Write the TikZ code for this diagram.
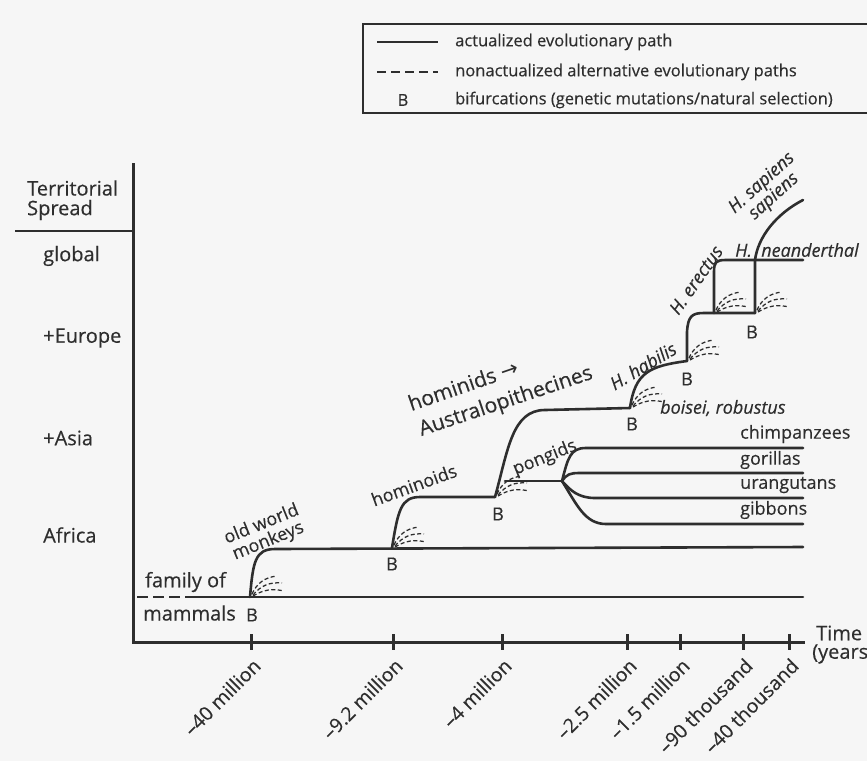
\documentclass[tikz,border=0pt]{standalone}
\usepackage{fontspec}
\setmainfont{Open Sans}[FakeBold=0.35]
\newfontfamily\arrowfont{DejaVu Sans}
\definecolor{ink}{HTML}{2E2E2E}
\definecolor{paper}{HTML}{F6F6F6}
\tikzset{
 evo/.style={draw=ink,line width=2.6pt,line cap=round,line join=round},
 alt/.style={draw=ink,line width=1.25pt,dash pattern=on 4pt off 2.5pt},
 axisline/.style={draw=ink,line width=3pt},
 txt/.style={text=ink,inner sep=0pt,font=\fontsize{18}{21}\selectfont},
 ax/.style={txt,font=\fontsize{20}{23}\selectfont},
 leg/.style={txt,font=\fontsize{16.5}{19}\selectfont},
 itl/.style={txt,font=\fontsize{18}{21}\selectfont\itshape},
 big/.style={txt,font=\fontsize{21}{24}\selectfont},
 tick/.style={txt,font=\fontsize{19.5}{22}\selectfont,rotate=45,anchor=east},
 fanpic/.pic={
  \draw[alt] (2,-3) to[bend left=30] (27,-21);
  \draw[alt] (3,-2) to[bend left=28] (32,-14);
  \draw[alt] (3,-1) to[bend left=22] (34,-6);
 }
}
\begin{document}
\begin{tikzpicture}[x=1pt,y=-1pt]
\fill[paper] (0,0) rectangle (867,761);
\useasboundingbox (0,0) rectangle (867,761);

% legend
\coordinate (lgtr) at (867,24);
\coordinate (lgtl) at (363,24);
\coordinate (lgbl) at (363,113);
\coordinate (lgbr) at (867,113);
\draw[draw=ink,line width=1.6pt] (lgtr) -- (lgtl) -- (lgbl) -- (lgbr);
\coordinate (l1a) at (377,42); \coordinate (l1b) at (438,42);
\coordinate (l2a) at (377,72); \coordinate (l2b) at (438,72);
\draw[draw=ink,line width=2.2pt] (l1a) -- (l1b);
\draw[draw=ink,line width=2.2pt,dash pattern=on 9pt off 5pt] (l2a) -- (l2b);
\node[leg] (lB) at (403,100) {B};
\node[leg,anchor=west] (lt1) at (455,42) {actualized evolutionary path};
\node[leg,anchor=west] (lt2) at (455,72) {nonactualized alternative evolutionary paths};
\node[leg,anchor=west] (lt3) at (455,100) {bifurcations (genetic mutations/natural selection)};

% axes
\coordinate (vtop) at (133,163);
\coordinate (orig) at (133,642);
\coordinate (tend) at (805,642);
\coordinate (dvl) at (15,231);
\coordinate (dvr) at (133,231);
\draw[axisline] (vtop) -- (orig) -- (tend);
\draw[draw=ink,line width=2.2pt] (dvl) -- (dvr);
\node[ax,anchor=west] (terr) at (27,188) {Territorial};
\node[ax,anchor=west] (spread) at (27,210) {Spread};
\node[ax,anchor=west] (glob) at (43,256) {global};
\node[ax,anchor=west] (eur) at (43,338) {+Europe};
\node[ax,anchor=west] (asia) at (43,438) {+Asia};
\node[ax,anchor=west] (afr) at (43,535) {Africa};
\node[ax,anchor=west] (time) at (816,633) {Time};
\node[ax,anchor=west] (years) at (812,654) {(years)};

\foreach \x/\lab/\nm in {251/–40 million/ta,393/–9.2 million/tb,502/–4 million/tc,627/–2.5 million/td,680/–1.5 million/te,743/–90 thousand/tf,789/–40 thousand/tg}{
  \coordinate (\nm u) at (\x,634);
  \coordinate (\nm d) at (\x,650);
  \draw[draw=ink,line width=3pt] (\nm u) -- (\nm d);
  \node[tick] (\nm) at (\x+6,662) {\lab};
}

% family of mammals
\coordinate (m0) at (137,597);
\coordinate (m1) at (195,597);
\coordinate (mend) at (803,597);
\draw[evo,line cap=butt,dash pattern=on 11pt off 5pt] (m0) -- (m1);
\draw[evo] (m1) -- (mend);
\node[ax,anchor=west] (fam) at (145,582) {family of};
\node[ax,anchor=west] (mam) at (143,613) {mammals};

% B points
\coordinate (b1) at (250,597);
\coordinate (b2) at (392,548);
\coordinate (b3) at (495,497);
\coordinate (b4) at (630,408);
\coordinate (b5) at (687,361);
\coordinate (e1) at (714,313);
\coordinate (b6) at (755,313);

% old world monkeys
\coordinate (owmend) at (803,547);
\draw[evo] (b1) .. controls (253,562) and (255,549) .. (275,549) -- (owmend);
\node[txt,rotate=22,align=center] (owm) at (265,533) {old world\\[-3pt]monkeys};

% hominoids
\draw[evo] (b2) .. controls (398,510) and (401,497) .. (420,497) -- (b3);
\node[txt,rotate=20] (hoids) at (414,485) {hominoids};

% hominids -> Australopithecines
\draw[evo] (b3) .. controls (508,450) and (512,410) .. (545,410) -- (b4);
\node[big,rotate=19] (hids) at (463,385) {hominids {\arrowfont →}};
\node[big,rotate=18.5] (austr) at (506,402) {Australopithecines};

% pongids
\coordinate (p0) at (505,481);
\coordinate (ps) at (562,481);
\draw[evo] (p0) -- (ps);
\node[txt,rotate=22] (pong) at (545,458) {pongids};
\coordinate (ch) at (803,448);
\coordinate (go) at (803,473);
\coordinate (ur) at (803,498);
\coordinate (gi) at (803,524);
\draw[evo] (ps) .. controls (568,458) and (570,448) .. (586,448) -- (ch);
\draw[evo] (ps) .. controls (567,474) and (570,473) .. (580,473) -- (go);
\draw[evo] (ps) .. controls (570,490) and (578,498) .. (595,498) -- (ur);
\draw[evo] (ps) .. controls (577,505) and (585,524) .. (606,524) -- (gi);
\node[txt,anchor=west] (nch) at (740,434) {chimpanzees};
\node[txt,anchor=west] (ngo) at (740,460) {gorillas};
\node[txt,anchor=west] (nur) at (740,485) {urangutans};
\node[txt,anchor=west] (ngi) at (740,510) {gibbons};

% boisei
\node[itl,anchor=west] (bois) at (660,408) {boisei, robustus};

% H. habilis
\draw[evo] (b4) .. controls (635,372) and (650,366) .. (b5);
\node[itl,rotate=31] (hab) at (643,366) {H. habilis};

% H. erectus
\draw[evo] (b5) -- (687,332) .. controls (688,316) and (692,313) .. (704,313) -- (b6);
\node[itl,rotate=55] (ere) at (696,280) {H. erectus};

% neanderthal
\coordinate (ne) at (803,260);
\draw[evo] (e1) -- (714,272) .. controls (714,262) and (716,260) .. (726,260) -- (ne);
\node[itl,anchor=west] (nea) at (735,250) {H.\ \ neanderthal};

% sapiens
\coordinate (sap) at (803,200);
\draw[evo] (b6) -- (755,260) .. controls (758,237) and (776,214) .. (sap);
\node[itl,rotate=42,align=center] (sapl) at (768,190) {H. sapiens\\[-3pt]sapiens};

% bifurcation fans
\foreach \p in {b1,b2,b3,b4,b5,e1,b6}{ \pic at (\p) {fanpic}; }

% B labels
\node[txt] (B1) at (252,615) {B};
\node[txt] (B2) at (392,564) {B};
\node[txt] (B3) at (498,514) {B};
\node[txt] (B4) at (632,424) {B};
\node[txt] (B5) at (687,379) {B};
\node[txt] (B6) at (752,332) {B};
\end{tikzpicture}
\end{document}
